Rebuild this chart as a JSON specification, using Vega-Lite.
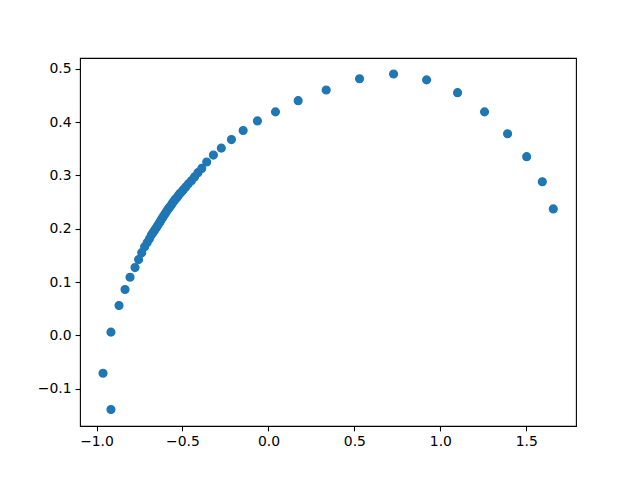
{
  "$schema": "https://vega.github.io/schema/vega-lite/v6.json",
  "width": 496,
  "height": 368,
  "autosize": "none",
  "padding": {"left": 80, "top": 58, "right": 64, "bottom": 54},
  "background": "white",
  "config": {
    "view": {"stroke": "black", "strokeWidth": 1.1},
    "axis": {
      "grid": false,
      "domain": false,
      "tickColor": "black",
      "tickSize": 4.9,
      "tickWidth": 1.1,
      "labelFont": "DejaVu Sans",
      "labelFontSize": 13.9,
      "labelColor": "black",
      "labelPadding": 4,
      "title": null
    }
  },
  "data": {
    "values": [
      {"x": -0.916, "y": -0.139},
      {"x": -0.962, "y": -0.071},
      {"x": -0.916, "y": 0.006},
      {"x": -0.869, "y": 0.056},
      {"x": -0.834, "y": 0.086},
      {"x": -0.805, "y": 0.109},
      {"x": -0.776, "y": 0.127},
      {"x": -0.755, "y": 0.142},
      {"x": -0.737, "y": 0.155},
      {"x": -0.720, "y": 0.166},
      {"x": -0.705, "y": 0.174},
      {"x": -0.692, "y": 0.181},
      {"x": -0.681, "y": 0.188},
      {"x": -0.671, "y": 0.193},
      {"x": -0.662, "y": 0.197},
      {"x": -0.654, "y": 0.201},
      {"x": -0.646, "y": 0.205},
      {"x": -0.638, "y": 0.209},
      {"x": -0.630, "y": 0.213},
      {"x": -0.623, "y": 0.217},
      {"x": -0.615, "y": 0.221},
      {"x": -0.607, "y": 0.225},
      {"x": -0.599, "y": 0.229},
      {"x": -0.591, "y": 0.233},
      {"x": -0.583, "y": 0.237},
      {"x": -0.575, "y": 0.240},
      {"x": -0.566, "y": 0.244},
      {"x": -0.558, "y": 0.248},
      {"x": -0.549, "y": 0.252},
      {"x": -0.542, "y": 0.255},
      {"x": -0.533, "y": 0.258},
      {"x": -0.524, "y": 0.262},
      {"x": -0.515, "y": 0.266},
      {"x": -0.505, "y": 0.269},
      {"x": -0.495, "y": 0.273},
      {"x": -0.481, "y": 0.278},
      {"x": -0.466, "y": 0.284},
      {"x": -0.448, "y": 0.290},
      {"x": -0.430, "y": 0.297},
      {"x": -0.410, "y": 0.305},
      {"x": -0.388, "y": 0.313},
      {"x": -0.359, "y": 0.325},
      {"x": -0.320, "y": 0.338},
      {"x": -0.274, "y": 0.351},
      {"x": -0.215, "y": 0.367},
      {"x": -0.147, "y": 0.384},
      {"x": -0.064, "y": 0.402},
      {"x": 0.041, "y": 0.419},
      {"x": 0.173, "y": 0.440},
      {"x": 0.336, "y": 0.460},
      {"x": 0.530, "y": 0.481},
      {"x": 0.728, "y": 0.490},
      {"x": 0.920, "y": 0.479},
      {"x": 1.100, "y": 0.455},
      {"x": 1.257, "y": 0.419},
      {"x": 1.391, "y": 0.378},
      {"x": 1.502, "y": 0.335},
      {"x": 1.593, "y": 0.288},
      {"x": 1.657, "y": 0.237}
    ]
  },
  "mark": {"type": "point", "filled": true, "shape": "circle", "size": 60, "color": "#1f77b4", "opacity": 1, "stroke": "#1f77b4", "strokeWidth": 1.4},
  "encoding": {
    "x": {
      "field": "x", "type": "quantitative",
      "scale": {"domain": [-1.096, 1.789], "nice": false, "zero": false},
      "axis": {"values": [-1.0, -0.5, 0.0, 0.5, 1.0, 1.5], "format": ".1f", "labelExpr": "replace(datum.label, '-', '−')"}
    },
    "y": {
      "field": "y", "type": "quantitative",
      "scale": {"domain": [-0.170, 0.520], "nice": false, "zero": false},
      "axis": {"values": [-0.1, 0.0, 0.1, 0.2, 0.3, 0.4, 0.5], "format": ".1f", "labelExpr": "replace(datum.label, '-', '−')"}
    }
  }
}
